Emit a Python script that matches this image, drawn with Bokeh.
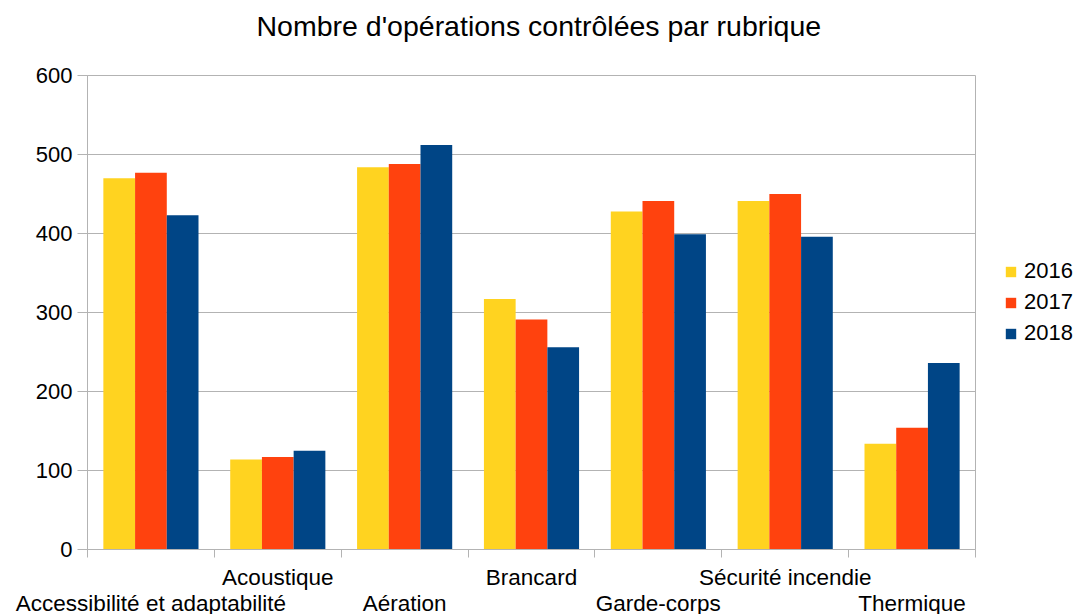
from bokeh.plotting import figure
from bokeh.models import (ColumnDataSource, Range1d, LinearAxis, FixedTicker,
                          Legend, LegendItem)
from bokeh.transform import dodge
from bokeh.embed import file_html
from bokeh.resources import INLINE

categories = ["Accessibilité et adaptabilité", "Acoustique", "Aération", "Brancard",
              "Garde-corps", "Sécurité incendie", "Thermique"]
years = ["2016", "2017", "2018"]
v2016 = [470, 114, 484, 317, 428, 441, 134]
v2017 = [477, 117, 488, 291, 441, 450, 154]
v2018 = [423, 125, 512, 256, 399, 396, 236]
y_ticks = [0, 100, 200, 300, 400, 500, 600]
colors = ["#ffd320", "#ff420e", "#004586"]

FONT = "Liberation Sans"
GRID = "#b3b3b3"

n = len(categories)
centers = [i + 0.5 for i in range(n)]
source = ColumnDataSource(dict(x=centers, cat=categories,
                               y2016=v2016, y2017=v2017, y2018=v2018))

p = figure(frame_width=888, frame_height=474, output_backend="svg", toolbar_location=None,
           x_range=Range1d(0, n), y_range=Range1d(0, 600),
           x_axis_location=None,
           min_border_left=87, min_border_right=101, min_border_top=75,
           min_border_bottom=65)

p.title.text = "Nombre d'opérations contrôlées par rubrique"
p.title.text_font = FONT
p.title.text_font_size = "28.5px"
p.title.text_font_style = "normal"
p.title.text_color = "#000000"
p.title.align = "left"
p.title.offset = 169
p.title.standoff = 10

# invisible spacer between title and plot area
spacer = LinearAxis(ticker=FixedTicker(ticks=[0]))
spacer.major_label_overrides = {0.0: ""}
spacer.major_label_text_font_size = "0px"
spacer.major_label_standoff = 0
spacer.axis_line_color = None
spacer.major_tick_line_color = None
spacer.minor_tick_line_color = None
spacer.major_tick_out = 29
spacer.major_tick_in = 0
p.add_layout(spacer, "above")

renderers = []
for yr, off, col in zip(years, [-0.25, 0.0, 0.25], colors):
    r = p.vbar(x=dodge("x", off, range=p.x_range), top="y" + yr, width=0.25,
               source=source, fill_color=col, line_color=None)
    renderers.append(r)

# y axis
ya = p.yaxis[0]
ya.ticker = FixedTicker(ticks=y_ticks)
ya.axis_line_color = GRID
ya.major_tick_line_color = GRID
ya.major_tick_out = 10
ya.major_tick_in = 0
ya.minor_tick_line_color = None
ya.major_label_text_font = FONT
ya.major_label_text_font_size = "22px"
ya.major_label_text_color = "#000000"
ya.major_label_standoff = 5

p.ygrid.grid_line_color = GRID
p.ygrid.ticker = FixedTicker(ticks=y_ticks)
p.xgrid.grid_line_color = None
p.outline_line_color = GRID

# x axis with separators
xa = LinearAxis(ticker=FixedTicker(ticks=list(range(n + 1))))
xa.major_label_overrides = {float(i): "" for i in range(n + 1)}
xa.major_label_text_font_size = "0px"
xa.major_label_standoff = 0
xa.axis_line_color = GRID
xa.major_tick_line_color = GRID
xa.major_tick_out = 8
xa.major_tick_in = 0
xa.minor_tick_line_color = None
p.add_layout(xa, "below")

def label_axis(idx, standoff):
    ticks = [centers[i] for i in idx]
    ax = LinearAxis(ticker=FixedTicker(ticks=ticks))
    ax.major_label_overrides = {float(centers[i]): categories[i] for i in idx}
    ax.axis_line_color = None
    ax.major_tick_line_color = None
    ax.minor_tick_line_color = None
    ax.major_tick_out = 0
    ax.major_tick_in = 0
    ax.major_label_standoff = standoff
    ax.major_label_text_font = FONT
    ax.major_label_text_font_size = "22.5px"
    ax.major_label_text_color = "#000000"
    return ax

p.add_layout(label_axis([1, 3, 5], 7), "below")
p.add_layout(label_axis([0, 2, 4, 6], -2), "below")

legend = Legend(items=[LegendItem(label=yr, renderers=[r]) for yr, r in zip(years, renderers)],
                location=(29, 203))
legend.glyph_width = 13
legend.glyph_height = 13
legend.label_text_font = FONT
legend.label_text_font_size = "22px"
legend.label_text_color = "#000000"
legend.label_standoff = 7
legend.padding = 0
legend.margin = 0
legend.spacing = 5
legend.border_line_color = None
legend.background_fill_alpha = 0
p.add_layout(legend, "right")

open("out.html", "w").write(file_html(p, INLINE))
